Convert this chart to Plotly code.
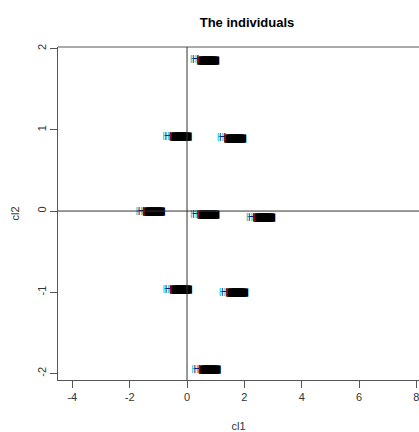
import plotly.graph_objects as go

# individuals grouped in 9 clusters (coordinates on dimensions cl1, cl2)
cluster_x = [0.58, -0.38, 1.52, -1.31, 0.59, 2.53, -0.37, 1.59, 0.63]
cluster_y = [1.85, 0.91, 0.89, -0.02, -0.05, -0.09, -0.98, -1.01, -1.96]
# overlapping individual labels inside each cluster (dark body)
block_offsets = [0.06, 0.13, 0.20, 0.26]
block_text = "███"
# overlapping individual labels drawn at the left end of each cluster
mark_offsets = [-0.36, -0.28, -0.20]
mark_colors = ["#00CDCD", "#1A1A8C", "#CD0000"]
mark_text = ["H", "H", "I"]

x_ticks = [-4, -2, 0, 2, 4, 6, 8]
y_ticks = [-2, -1, 0, 1, 2]

fig = go.Figure()

for off in block_offsets:
    fig.add_trace(go.Scatter(
        x=[cx + off for cx in cluster_x], y=cluster_y, mode="text",
        text=[block_text] * len(cluster_x),
        textfont=dict(family="DejaVu Sans", size=7, color="#000000"),
        hoverinfo="skip", showlegend=False))

for off, col, lab in zip(mark_offsets, mark_colors, mark_text):
    fig.add_trace(go.Scatter(
        x=[cx + off for cx in cluster_x], y=cluster_y, mode="text",
        text=[lab] * len(cluster_x),
        textfont=dict(family="Liberation Sans", size=10, color=col),
        hoverinfo="skip", showlegend=False))

axis_color = "#555555"
fig.update_layout(
    width=419, height=432,
    margin=dict(l=58, r=0, t=47, b=52, autoexpand=False),
    paper_bgcolor="white", plot_bgcolor="white",
    title=dict(text="<b>The individuals</b>", x=247 / 419, xref="container", xanchor="center",
               y=1 - 22 / 432, yref="container", yanchor="middle", automargin=False,
               font=dict(family="Liberation Sans", size=13, color="#000000")),
    xaxis=dict(range=[-4.5, 8.09], tickvals=x_ticks, ticktext=[str(v) for v in x_ticks],
               automargin=False, ticklabeloverflow="allow",
               showgrid=False, zeroline=False, showline=True, linecolor=axis_color,
               linewidth=1, ticks="outside", ticklen=7, tickcolor=axis_color,
               tickfont=dict(family="Liberation Sans", size=11, color="#333333"),
               title=dict(text="cl1", standoff=20,
                          font=dict(family="Liberation Sans", size=11, color="#333333"))),
    yaxis=dict(range=[-2.08, 2.02], tickvals=y_ticks, ticktext=[str(v) for v in y_ticks],
               automargin=False,
               showgrid=False, zeroline=False, showline=True, linecolor=axis_color,
               linewidth=1, ticks="outside", ticklen=7, tickcolor=axis_color, tickangle=-90,
               tickfont=dict(family="Liberation Sans", size=11, color="#333333"),
               title=dict(text="cl2", standoff=13,
                          font=dict(family="Liberation Sans", size=11, color="#333333"))),
    shapes=[
        dict(type="line", xref="paper", yref="paper", x0=0, x1=1, y0=1, y1=1,
             line=dict(color=axis_color, width=1)),
        dict(type="line", xref="x", yref="paper", x0=0, x1=0, y0=0, y1=1,
             line=dict(color="#333333", width=1)),
        dict(type="line", xref="paper", yref="y", x0=0, x1=1, y0=0, y1=0,
             line=dict(color="#333333", width=1)),
    ],
)

fig.write_html("out.html", config={"displayModeBar": False},
               post_script="document.body.style.margin='0';document.body.style.overflow='hidden';")
